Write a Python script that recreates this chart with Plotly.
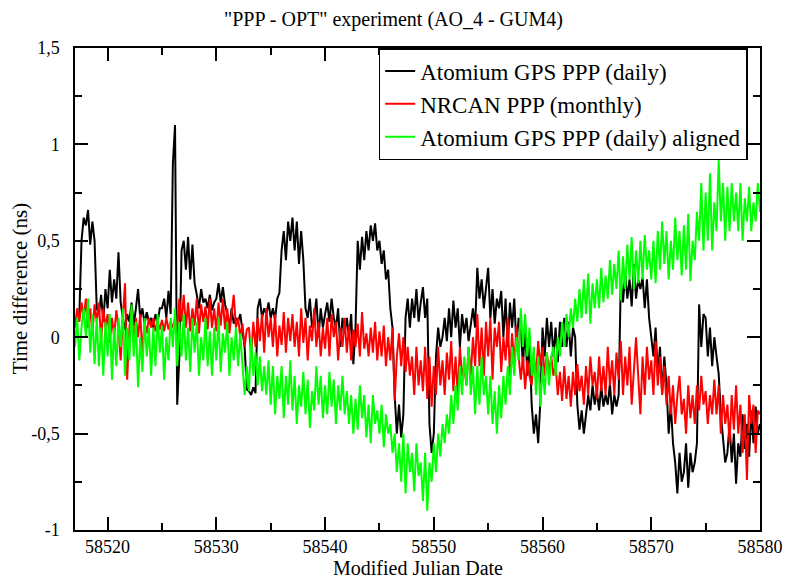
import plotly.graph_objects as go

# ---- data (MJD grid: start + 0.2 day steps, 5 samples per day) ----
mjd_start = 58517.0
mjd_step = 0.2

black_vals = [
    None, None, 0.12, 0.50, 0.62,      # 58517
    0.58, 0.66, 0.48, 0.60, 0.50,      # 58518
    0.15, 0.12, 0.22, 0.08, 0.25,      # 58519
    0.15, 0.35, 0.18, 0.30, 0.20,      # 58520
    0.44, 0.18, 0.10, 0.04, 0.12,      # 58521
    0.08, 0.18, 0.06, 0.15, 0.25,      # 58522
    0.10, 0.15, 0.07, 0.13, 0.08,      # 58523
    0.10, 0.05, 0.12, 0.08, 0.15,      # 58524
    0.15, 0.20, 0.10, 0.24, 0.12,      # 58525
    0.90, 1.10, -0.35, -0.10, 0.45,    # 58526
    0.50, 0.35, 0.52, 0.30, 0.48,      # 58527
    0.28, 0.22, 0.15, 0.25, 0.18,      # 58528
    0.20, 0.15, 0.22, 0.14, 0.18,      # 58529
    0.20, 0.28, 0.18, 0.26, 0.17,      # 58530
    0.12, 0.05, 0.15, 0.07, 0.10,      # 58531
    0.08, 0.12, 0.03, -0.05, -0.27,    # 58532
    -0.28, -0.30, -0.26, -0.29, 0.15,  # 58533
    0.20, 0.10, 0.15, 0.12, 0.18,      # 58534
    0.10, 0.15, 0.09, 0.20, 0.23,      # 58535
    0.45, 0.55, 0.40, 0.60, 0.50,      # 58536
    0.62, 0.45, 0.60, 0.38, 0.55,      # 58537
    0.40, 0.15, 0.10, 0.20, 0.05,      # 58538
    0.10, 0.20, 0.00, 0.15, 0.05,      # 58539
    0.12, 0.18, 0.08, 0.20, 0.10,      # 58540
    0.05, 0.15, -0.05, 0.10, 0.02,     # 58541
    0.10, 0.00, 0.12, -0.14, 0.05,     # 58542
    0.50, 0.35, 0.52, 0.40, 0.55,      # 58543
    0.45, 0.58, 0.50, 0.59, 0.45,      # 58544
    0.50, 0.38, 0.45, 0.30, 0.35,      # 58545
    0.15, 0.05, -0.30, -0.50, -0.35,   # 58546
    -0.52, -0.40, 0.10, 0.20, 0.05,    # 58547
    0.20, 0.10, 0.25, 0.08, 0.18,      # 58548
    0.26, 0.10, 0.20, -0.45, -0.60,    # 58549
    -0.50, -0.10, 0.05, -0.05, 0.00,   # 58550
    0.10, -0.02, 0.15, 0.00, 0.19,     # 58551
    0.05, 0.15, -0.05, 0.12, 0.02,     # 58552
    0.10, -0.02, 0.08, 0.15, 0.05,     # 58553
    0.36, 0.20, 0.30, 0.15, 0.25,      # 58554
    0.36, 0.10, 0.25, 0.07, 0.20,      # 58555
    0.15, 0.24, 0.00, 0.20, -0.05,     # 58556
    0.18, 0.05, 0.20, -0.05, 0.10,     # 58557
    0.05, -0.15, 0.07, -0.20, 0.00,    # 58558
    -0.35, -0.50, -0.40, -0.55, -0.33, # 58559
    0.05, -0.10, 0.10, -0.05, 0.08,    # 58560
    -0.10, 0.05, -0.13, 0.08, -0.05,   # 58561
    0.10, -0.05, 0.08, -0.10, 0.05,    # 58562
    0.00, -0.35, -0.48, -0.38, -0.50,  # 58563
    -0.40, -0.30, -0.38, -0.25, -0.35, # 58564
    -0.28, -0.38, -0.25, -0.36, -0.30, # 58565
    -0.35, -0.24, -0.40, -0.30, -0.36, # 58566
    -0.30, 0.30, 0.18, 0.33, 0.20,     # 58567
    0.30, 0.16, 0.38, 0.20, 0.30,      # 58568
    0.25, 0.31, 0.15, 0.30, 0.10,      # 58569
    0.00, -0.10, 0.05, -0.20, -0.05,   # 58570
    -0.29, -0.10, -0.25, -0.50, -0.35, # 58571
    -0.55, -0.65, -0.81, -0.60, -0.75, # 58572
    -0.70, -0.55, -0.78, -0.60, -0.70, # 58573
    -0.65, -0.55, 0.17, -0.05, 0.12,   # 58574
    0.10, -0.10, 0.05, -0.15, 0.00,    # 58575
    -0.10, -0.19, -0.40, -0.55, -0.65, # 58576
    -0.60, -0.45, -0.65, -0.50, -0.76, # 58577
    -0.55, -0.62, -0.40, -0.58, -0.45, # 58578
    -0.62, -0.38, -0.55, -0.36, -0.50, # 58579
    -0.45,                             # 58580
]

red_vals = [
    0.05, 0.15, 0.08, 0.18, 0.10,      # 58517
    0.20, 0.05, 0.15, 0.02, 0.17,      # 58518
    0.08, 0.18, -0.02, 0.15, 0.05,     # 58519
    0.12, -0.03, 0.10, 0.00, 0.14,     # 58520
    0.05, -0.12, 0.10, 0.28, -0.22,    # 58521
    0.05, 0.14, -0.03, 0.10, 0.00,     # 58522
    0.12, -0.08, 0.08, 0.02, 0.10,     # 58523
    0.05, 0.10, 0.03, 0.08, 0.04,      # 58524
    0.09, 0.03, 0.10, 0.04, 0.08,      # 58525
    0.05, 0.10, 0.04, 0.20, 0.08,      # 58526
    0.22, 0.05, 0.18, 0.03, 0.15,      # 58527
    0.06, 0.20, 0.02, 0.17, 0.08,      # 58528
    0.16, 0.04, 0.20, 0.05, 0.15,      # 58529
    0.03, 0.18, 0.06, 0.20, 0.04,      # 58530
    0.15, 0.02, 0.12, 0.22, 0.05,      # 58531
    0.10, 0.00, 0.07, -0.05, 0.04,     # 58532
    0.05, -0.10, 0.08, -0.05, 0.10,    # 58533
    -0.02, 0.12, -0.08, 0.15, 0.00,    # 58534
    0.10, -0.05, 0.12, -0.10, 0.06,    # 58535
    -0.04, 0.13, -0.08, 0.10, -0.02,   # 58536
    0.12, -0.05, 0.08, -0.10, 0.15,    # 58537
    -0.03, 0.10, -0.12, 0.06, -0.02,   # 58538
    0.15, -0.05, 0.08, -0.10, 0.05,    # 58539
    -0.06, 0.10, -0.10, 0.12, 0.00,    # 58540
    0.08, -0.12, 0.05, -0.05, 0.10,    # 58541
    -0.08, 0.06, -0.12, 0.04, -0.05,   # 58542
    0.07, -0.10, 0.13, -0.06, 0.02,    # 58543
    -0.10, 0.05, -0.08, 0.08, -0.12,   # 58544
    0.03, -0.10, 0.06, -0.15, 0.00,    # 58545
    -0.12, 0.05, -0.33, -0.10, 0.02,   # 58546
    -0.15, 0.00, -0.18, -0.05, -0.20,  # 58547
    -0.10, -0.30, -0.05, -0.25, -0.12, # 58548
    -0.28, -0.05, -0.32, -0.10, -0.36, # 58549
    -0.15, -0.30, -0.05, -0.25, -0.12, # 58550
    -0.30, -0.08, -0.22, -0.02, -0.28, # 58551
    -0.10, -0.30, -0.05, -0.20, -0.15, # 58552
    -0.25, -0.05, -0.20, 0.00, -0.15,  # 58553
    0.12, -0.15, 0.05, -0.20, 0.08,    # 58554
    -0.10, 0.10, -0.22, 0.05, -0.05,   # 58555
    0.08, -0.18, 0.00, -0.12, 0.10,    # 58556
    -0.20, 0.02, -0.15, 0.06, -0.10,   # 58557
    -0.22, -0.10, -0.27, -0.12, -0.20, # 58558
    -0.25, -0.10, -0.20, -0.02, -0.15, # 58559
    -0.05, -0.20, -0.08, -0.18, -0.10, # 58560
    -0.20, -0.14, -0.30, -0.18, -0.33, # 58561
    -0.15, -0.32, -0.20, -0.36, -0.18, # 58562
    -0.30, -0.14, -0.28, -0.20, -0.35, # 58563
    -0.15, -0.30, -0.10, -0.25, -0.18, # 58564
    -0.32, -0.10, -0.28, -0.15, -0.30, # 58565
    -0.05, -0.25, -0.12, -0.30, -0.08, # 58566
    -0.22, -0.02, -0.30, -0.10, -0.25, # 58567
    -0.05, -0.35, -0.15, 0.00, -0.20,  # 58568
    -0.40, -0.10, -0.30, -0.05, -0.22, # 58569
    -0.12, -0.30, -0.02, -0.25, -0.10, # 58570
    -0.30, -0.15, -0.35, -0.20, -0.40, # 58571
    -0.25, -0.45, -0.30, -0.20, -0.40, # 58572
    -0.32, -0.50, -0.25, -0.42, -0.30, # 58573
    -0.45, -0.25, -0.38, -0.20, -0.35, # 58574
    -0.28, -0.45, -0.30, -0.40, -0.22, # 58575
    -0.40, -0.25, -0.50, -0.30, -0.45, # 58576
    -0.35, -0.55, -0.30, -0.48, -0.25, # 58577
    -0.50, -0.35, -0.60, -0.40, -0.74, # 58578
    -0.30, -0.45, -0.35, -0.60, -0.38, # 58579
    -0.40,                             # 58580
]

green_vals = [
    -0.05, 0.10, -0.12, 0.05, 0.15,    # 58517
    0.00, 0.20, -0.08, 0.12, -0.14,    # 58518
    0.10, -0.15, 0.05, -0.20, 0.08,    # 58519
    -0.10, 0.12, -0.22, 0.05, -0.15,   # 58520
    0.10, -0.05, 0.15, -0.20, 0.05,    # 58521
    -0.12, 0.17, -0.10, 0.08, -0.26,   # 58522
    0.00, -0.18, 0.10, -0.10, 0.05,    # 58523
    -0.20, 0.05, -0.15, 0.12, -0.08,   # 58524
    0.06, -0.22, 0.00, -0.12, 0.10,    # 58525
    -0.05, 0.15, -0.15, 0.08, -0.10,   # 58526
    0.12, -0.12, 0.05, -0.18, 0.10,    # 58527
    -0.08, 0.08, -0.20, 0.00, -0.12,   # 58528
    0.10, -0.15, 0.03, -0.20, 0.05,    # 58529
    -0.12, 0.10, -0.18, 0.02, -0.08,   # 58530
    0.08, -0.20, 0.00, -0.12, 0.05,    # 58531
    -0.15, 0.02, -0.12, -0.30, -0.15,  # 58532
    -0.28, 0.00, -0.20, -0.08, -0.25,  # 58533
    -0.10, -0.28, -0.15, -0.30, -0.12, # 58534
    -0.35, -0.15, -0.40, -0.20, -0.32, # 58535
    -0.15, -0.42, -0.20, -0.35, -0.12, # 58536
    -0.38, -0.20, -0.45, -0.25, -0.36, # 58537
    -0.18, -0.40, -0.22, -0.47, -0.28, # 58538
    -0.38, -0.15, -0.35, -0.20, -0.42, # 58539
    -0.25, -0.40, -0.18, -0.36, -0.22, # 58540
    -0.45, -0.25, -0.38, -0.20, -0.40, # 58541
    -0.28, -0.45, -0.30, -0.50, -0.32, # 58542
    -0.48, -0.25, -0.42, -0.30, -0.52, # 58543
    -0.35, -0.55, -0.30, -0.45, -0.38, # 58544
    -0.50, -0.35, -0.57, -0.40, -0.50, # 58545
    -0.45, -0.60, -0.50, -0.70, -0.55, # 58546
    -0.75, -0.50, -0.81, -0.55, -0.70, # 58547
    -0.60, -0.80, -0.55, -0.72, -0.65, # 58548
    -0.85, -0.60, -0.90, -0.65, -0.75, # 58549
    -0.55, -0.70, -0.50, -0.62, -0.45, # 58550
    -0.55, -0.40, -0.50, -0.30, -0.45, # 58551
    -0.25, -0.38, -0.15, -0.30, -0.10, # 58552
    -0.25, -0.05, -0.30, -0.15, -0.40, # 58553
    -0.15, -0.35, -0.10, -0.30, -0.20, # 58554
    -0.40, -0.20, -0.45, -0.28, -0.50, # 58555
    -0.25, -0.42, -0.20, -0.35, -0.15, # 58556
    -0.30, -0.05, -0.20, 0.00, -0.12,  # 58557
    0.15, -0.05, 0.12, -0.10, 0.05,    # 58558
    -0.20, -0.05, -0.30, -0.10, -0.36, # 58559
    -0.15, -0.30, -0.08, -0.25, -0.10, # 58560
    -0.05, -0.20, 0.00, -0.10, 0.08,   # 58561
    -0.05, 0.12, 0.00, 0.15, 0.05,     # 58562
    0.20, 0.08, 0.25, 0.10, 0.30,      # 58563
    0.12, 0.33, 0.07, 0.28, 0.15,      # 58564
    0.30, 0.15, 0.36, 0.18, 0.32,      # 58565
    0.20, 0.40, 0.22, 0.38, 0.25,      # 58566
    0.45, 0.19, 0.42, 0.25, 0.48,      # 58567
    0.30, 0.52, 0.25, 0.45, 0.28,      # 58568
    0.50, 0.30, 0.53, 0.35, 0.45,      # 58569
    0.30, 0.50, 0.28, 0.55, 0.35,      # 58570
    0.60, 0.38, 0.55, 0.30, 0.50,      # 58571
    0.35, 0.62, 0.40, 0.55, 0.32,      # 58572
    0.58, 0.35, 0.64, 0.29, 0.50,      # 58573
    0.40, 0.65, 0.50, 0.80, 0.45,      # 58574
    0.75, 0.50, 0.85, 0.45, 0.70,      # 58575
    0.55, 0.92, 0.60, 0.80, 0.50,      # 58576
    0.78, 0.55, 0.80, 0.60, 0.75,      # 58577
    0.55, 0.80, 0.50, 0.72, 0.60,      # 58578
    0.78, 0.55, 0.70, 0.60, 0.80,      # 58579
    0.65,                              # 58580
]

mjd = [round(mjd_start + i * mjd_step, 2) for i in range(len(green_vals))]

series_names = ["Atomium GPS PPP (daily)", "NRCAN PPP (monthly)", "Atomium GPS PPP (daily) aligned"]
series_colors = ["#000000", "#ff0000", "#00ff00"]

x_tickvals = [58520, 58530, 58540, 58550, 58560, 58570, 58580]
x_ticktext = ["58520", "58530", "58540", "58550", "58560", "58570", "58580"]
y_tickvals = [-1, -0.5, 0, 0.5, 1, 1.5]
y_ticktext = ["-1", "-0,5", "0", "0,5", "1", "1,5"]

FONT = "Liberation Serif, Times New Roman, serif"

fig = go.Figure()
for name, vals, col in zip(series_names, [black_vals, red_vals, green_vals], series_colors):
    fig.add_trace(go.Scatter(x=mjd, y=vals, mode="lines", name=name,
                             line=dict(color=col, width=2), connectgaps=False))

axis_common = dict(showline=True, linecolor="black", linewidth=1.5, mirror="allticks",
                   ticks="inside", ticklen=13, tickwidth=1.5, tickcolor="black",
                   showgrid=False, zeroline=False,
                   tickfont=dict(family=FONT, size=18, color="black"))

fig.update_layout(
    width=787, height=579,
    margin=dict(l=75, r=27, t=48, b=49, autoexpand=False),
    paper_bgcolor="white", plot_bgcolor="white",
    title=dict(text='"PPP - OPT" experiment (AO_4 - GUM4)', x=0.5, xanchor="center",
               y=0.967, yanchor="middle", font=dict(family=FONT, size=20, color="black")),
    xaxis=dict(range=[58517, 58580], tickvals=x_tickvals, ticktext=x_ticktext,
               ticklabelstandoff=0,
               minor=dict(ticks="inside", ticklen=7, dtick=5, tick0=58520, tickcolor="black", tickwidth=1.5),
               **axis_common),
    yaxis=dict(range=[-1, 1.5], tickvals=y_tickvals, ticktext=y_ticktext,
               ticklabelstandoff=10,
               minor=dict(ticks="inside", ticklen=7, dtick=0.25, tick0=0, tickcolor="black", tickwidth=1.5),
               **axis_common),
    legend=dict(x=0.982, xanchor="right", y=1, yanchor="top",
                bgcolor="white", bordercolor="black", borderwidth=1.5,
                font=dict(family=FONT, size=23, color="black"), tracegroupgap=0,
                itemwidth=30),
    showlegend=True,
    annotations=[
        dict(text="Modified Julian Date", xref="paper", yref="paper", x=0.5, y=-0.0795,
             xanchor="center", yanchor="middle", showarrow=False,
             font=dict(family=FONT, size=20, color="black")),
        dict(text="Time difference (ns)", xref="paper", yref="paper", x=-0.08, y=0.5,
             xanchor="center", yanchor="middle", showarrow=False, textangle=-90,
             font=dict(family=FONT, size=21, color="black")),
    ],
)

fig.write_html("out.html")
